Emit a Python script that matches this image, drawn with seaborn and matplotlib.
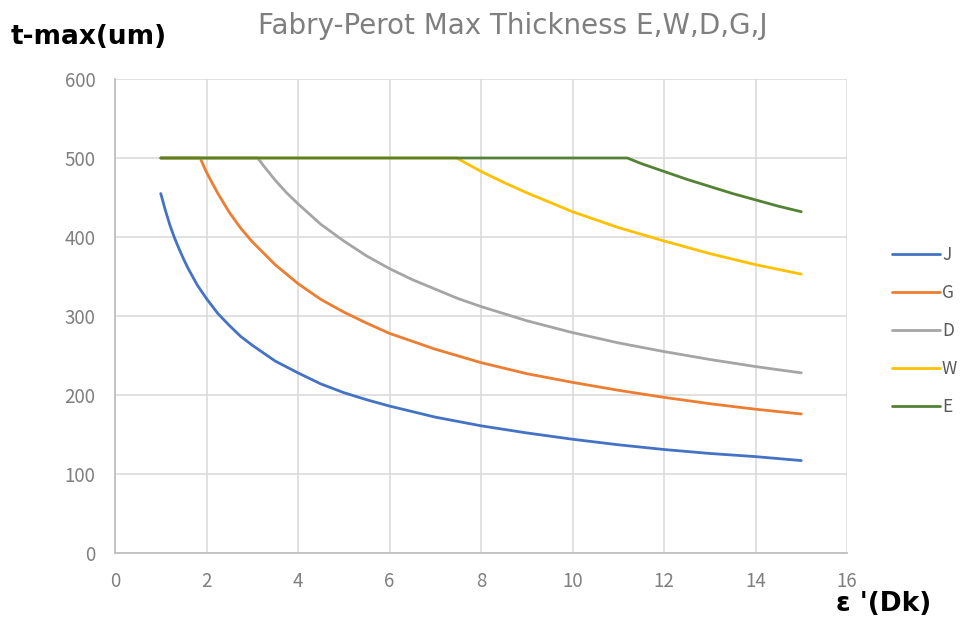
import matplotlib
matplotlib.use("Agg")
import matplotlib.pyplot as plt
import seaborn as sns
import pandas as pd

# values
eps_j = [1, 1.1, 1.2, 1.3, 1.4, 1.5, 1.6, 1.8, 2, 2.25, 2.5, 2.75, 3, 3.5, 4, 4.5, 5, 5.5,
         6, 7, 8, 9, 10, 11, 12, 13, 14, 15]
t_j = [455, 434, 415, 399, 385, 372, 360, 339, 322, 303, 288, 274, 263, 243, 228, 214, 203, 194,
       186, 172, 161, 152, 144, 137, 131, 126, 122, 117]

eps_g = [1, 1.5, 1.86, 2, 2.1, 2.25, 2.5, 2.75, 3, 3.5, 4, 4.5, 5, 5.5, 6, 7, 8, 9, 10, 11, 12,
         13, 14, 15]
t_g = [500, 500, 500, 482, 471, 455, 431, 411, 394, 365, 341, 321, 305, 291, 278, 258, 241, 227,
       216, 206, 197, 189, 182, 176]

eps_d = [1, 2, 3.12, 3.25, 3.5, 3.75, 4, 4.5, 5, 5.5, 6, 6.5, 7, 7.5, 8, 9, 10, 11, 12, 13, 14, 15]
t_d = [500, 500, 500, 490, 472, 456, 442, 416, 395, 376, 360, 346, 334, 322, 312, 294, 279, 266,
       255, 245, 236, 228]

eps_w = [1, 4, 7.47, 7.75, 8, 8.5, 9, 10, 11, 12, 13, 14, 15]
t_w = [500, 500, 500, 491, 483, 469, 456, 432, 412, 395, 379, 365, 353]

eps_e = [1, 6, 11.2, 11.5, 12, 12.5, 13, 13.5, 14, 14.5, 15]
t_e = [500, 500, 500, 493, 483, 473, 464, 455, 447, 439, 432]

names = ["J", "G", "D", "W", "E"]
colors = ["#4472C4", "#ED7D31", "#A5A5A5", "#FFC000", "#548235"]

frames = []
for name, xs, ys in zip(names, [eps_j, eps_g, eps_d, eps_w, eps_e],
                        [t_j, t_g, t_d, t_w, t_e]):
    frames.append(pd.DataFrame({"eps": xs, "t": ys, "series": name}))
data = pd.concat(frames, ignore_index=True)

sns.set_theme(style="white")
plt.rcParams["font.family"] = ["Noto Sans CJK JP", "DejaVu Sans"]

fig = plt.figure(figsize=(9.61, 6.23), dpi=100)
ax = fig.add_axes([115 / 961, 1 - 553 / 623, 732 / 961, 474 / 623])

sns.lineplot(
    data=data,
    x="eps",
    y="t",
    hue="series",
    hue_order=names,
    palette=colors,
    estimator=None,
    sort=False,
    linewidth=2.0,
    ax=ax
)

ax.set_xlim(0, 16)
ax.set_ylim(0, 600)
ax.set_xticks(range(0, 17, 2))
ax.set_yticks(range(0, 601, 100))
ax.grid(True, color="#D9D9D9", linewidth=1.1)
ax.set_axisbelow(True)
for side in ["top", "right"]:
    ax.spines[side].set_visible(False)
for side in ["left", "bottom"]:
    ax.spines[side].set_color("#BFBFBF")
    ax.spines[side].set_linewidth(1.3)
ax.tick_params(axis="both", length=0, labelsize=13.5, labelcolor="#7F7F7F")
ax.tick_params(axis="x", pad=13)
ax.tick_params(axis="y", pad=14)
ax.set_xlabel("")
ax.set_ylabel("")

fig.text(513 / 961, 1 - 26 / 623, "Fabry-Perot Max Thickness E,W,D,G,J",
         ha="center", va="center", fontsize=20, color="#7F7F7F",
         family=["DejaVu Sans"])
fig.text(11 / 961, 1 - 37 / 623, "t-max(um)", ha="left", va="center",
         fontsize=19, fontweight="bold", color="black",
         family=["DejaVu Sans"])
fig.text(931 / 961, 1 - 604 / 623, "ε '(Dk)", ha="right", va="center",
         fontsize=19, fontweight="bold", color="black",
         family=["DejaVu Sans"])

handles, labels = ax.get_legend_handles_labels()
ax.get_legend().remove()
fig.legend(
    handles, labels,
    loc="center left",
    bbox_to_anchor=(876 / 961, 1 - 331 / 623),
    frameon=False,
    fontsize=12.5,
    labelcolor="#595959",
    handlelength=2.8,
    handletextpad=0.1,
    labelspacing=1.15
)

fig.savefig("out.png", dpi=100)
